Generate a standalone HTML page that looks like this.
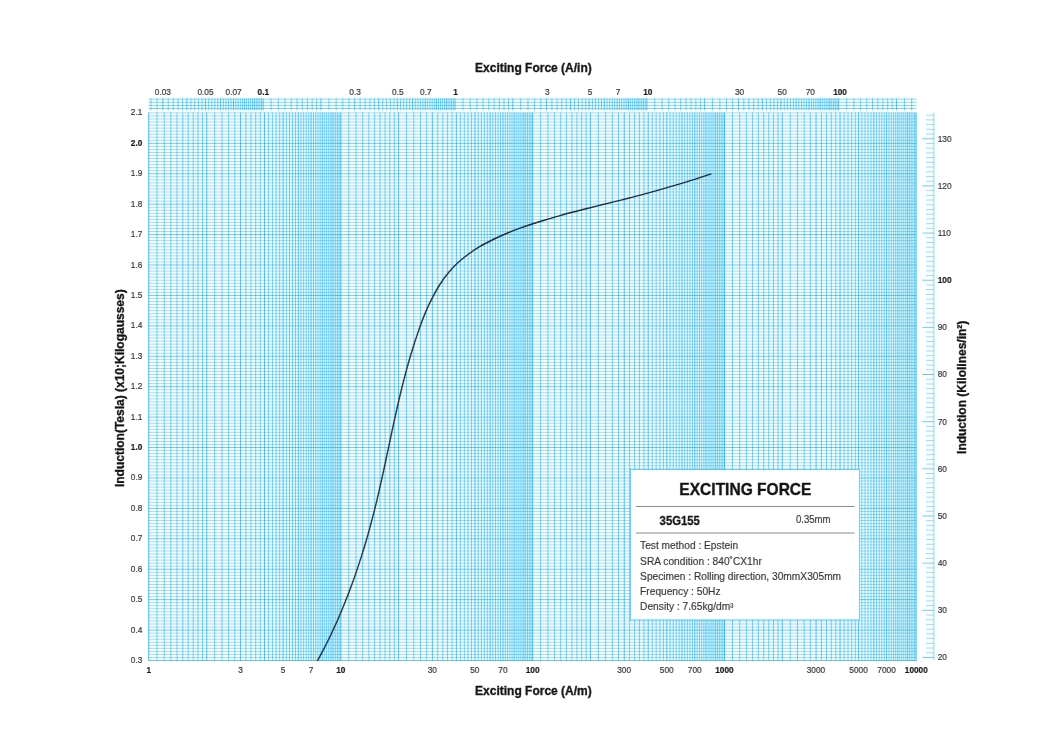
<!DOCTYPE html>
<html lang="en">
<head>
<meta charset="utf-8">
<title>Exciting Force - 35G155</title>
<style>
html,body{margin:0;padding:0;background:#fff;}
body{width:1060px;height:749px;overflow:hidden;}
svg{display:block;}
</style>
</head>
<body>
<svg width="1060" height="749" viewBox="0 0 1060 749" role="img" aria-label="Exciting Force chart for 35G155">
<defs><filter id="jp" filterUnits="userSpaceOnUse" x="-30" y="-30" width="1120" height="809" color-interpolation-filters="sRGB">
<feConvolveMatrix in="SourceGraphic" order="3" kernelMatrix="0.0000 0.0000 0.0000 0.0400 0.9200 0.0400 0.0000 0.0000 0.0000" divisor="1" edgeMode="duplicate" preserveAlpha="true" result="S"/>
<feColorMatrix in="S" type="matrix" values="0.299 0.587 0.114 0 0 0.299 0.587 0.114 0 0 0.299 0.587 0.114 0 0 0 0 0 1 0" result="Y"/>
<feGaussianBlur in="SourceGraphic" stdDeviation="0 1.2" result="B1"/>
<feGaussianBlur in="SourceGraphic" stdDeviation="1.1" result="B2"/>
<feComposite in="B1" in2="B2" operator="arithmetic" k1="0" k2="0.55" k3="0.45" k4="0" result="B"/>
<feColorMatrix in="B" type="matrix" values="0.3505 -0.2935 -0.057 0 0.5 -0.1495 0.2065 -0.057 0 0.5 -0.1495 -0.2935 0.443 0 0.5 0 0 0 1 0" result="C"/>
<feComposite in="Y" in2="C" operator="arithmetic" k1="0" k2="1" k3="2" k4="-1"/>
</filter></defs>
<g filter="url(#jp)">
<rect x="-30" y="-30" width="1120" height="809" fill="#fff"/>
<rect x="148.5" y="112.4" width="768" height="548.6" fill="#ffffff"/>
<path d="M148.5 657.46H916.5M148.5 654.42H916.5M148.5 651.37H916.5M148.5 648.33H916.5M148.5 645.29H916.5M148.5 642.25H916.5M148.5 639.2H916.5M148.5 636.16H916.5M148.5 633.12H916.5M148.5 627.04H916.5M148.5 623.99H916.5M148.5 620.95H916.5M148.5 617.91H916.5M148.5 614.87H916.5M148.5 611.82H916.5M148.5 608.78H916.5M148.5 605.74H916.5M148.5 602.7H916.5M148.5 596.61H916.5M148.5 593.57H916.5M148.5 590.53H916.5M148.5 587.49H916.5M148.5 584.44H916.5M148.5 581.4H916.5M148.5 578.36H916.5M148.5 575.32H916.5M148.5 572.28H916.5M148.5 566.19H916.5M148.5 563.15H916.5M148.5 560.11H916.5M148.5 557.06H916.5M148.5 554.02H916.5M148.5 550.98H916.5M148.5 547.94H916.5M148.5 544.9H916.5M148.5 541.85H916.5M148.5 535.77H916.5M148.5 532.73H916.5M148.5 529.68H916.5M148.5 526.64H916.5M148.5 523.6H916.5M148.5 520.56H916.5M148.5 517.52H916.5M148.5 514.47H916.5M148.5 511.43H916.5M148.5 505.35H916.5M148.5 502.3H916.5M148.5 499.26H916.5M148.5 496.22H916.5M148.5 493.18H916.5M148.5 490.14H916.5M148.5 487.09H916.5M148.5 484.05H916.5M148.5 481.01H916.5M148.5 474.92H916.5M148.5 471.88H916.5M148.5 468.84H916.5M148.5 465.8H916.5M148.5 462.76H916.5M148.5 459.71H916.5M148.5 456.67H916.5M148.5 453.63H916.5M148.5 450.59H916.5M148.5 444.5H916.5M148.5 441.46H916.5M148.5 438.42H916.5M148.5 435.38H916.5M148.5 432.33H916.5M148.5 429.29H916.5M148.5 426.25H916.5M148.5 423.21H916.5M148.5 420.16H916.5M148.5 414.08H916.5M148.5 411.04H916.5M148.5 408H916.5M148.5 404.95H916.5M148.5 401.91H916.5M148.5 398.87H916.5M148.5 395.83H916.5M148.5 392.78H916.5M148.5 389.74H916.5M148.5 383.66H916.5M148.5 380.62H916.5M148.5 377.57H916.5M148.5 374.53H916.5M148.5 371.49H916.5M148.5 368.45H916.5M148.5 365.4H916.5M148.5 362.36H916.5M148.5 359.32H916.5M148.5 353.24H916.5M148.5 350.19H916.5M148.5 347.15H916.5M148.5 344.11H916.5M148.5 341.07H916.5M148.5 338.02H916.5M148.5 334.98H916.5M148.5 331.94H916.5M148.5 328.9H916.5M148.5 322.81H916.5M148.5 319.77H916.5M148.5 316.73H916.5M148.5 313.69H916.5M148.5 310.64H916.5M148.5 307.6H916.5M148.5 304.56H916.5M148.5 301.52H916.5M148.5 298.48H916.5M148.5 292.39H916.5M148.5 289.35H916.5M148.5 286.31H916.5M148.5 283.26H916.5M148.5 280.22H916.5M148.5 277.18H916.5M148.5 274.14H916.5M148.5 271.1H916.5M148.5 268.05H916.5M148.5 261.97H916.5M148.5 258.93H916.5M148.5 255.88H916.5M148.5 252.84H916.5M148.5 249.8H916.5M148.5 246.76H916.5M148.5 243.72H916.5M148.5 240.67H916.5M148.5 237.63H916.5M148.5 231.55H916.5M148.5 228.5H916.5M148.5 225.46H916.5M148.5 222.42H916.5M148.5 219.38H916.5M148.5 216.34H916.5M148.5 213.29H916.5M148.5 210.25H916.5M148.5 207.21H916.5M148.5 201.12H916.5M148.5 198.08H916.5M148.5 195.04H916.5M148.5 192H916.5M148.5 188.96H916.5M148.5 185.91H916.5M148.5 182.87H916.5M148.5 179.83H916.5M148.5 176.79H916.5M148.5 170.7H916.5M148.5 167.66H916.5M148.5 164.62H916.5M148.5 161.58H916.5M148.5 158.53H916.5M148.5 155.49H916.5M148.5 152.45H916.5M148.5 149.41H916.5M148.5 146.36H916.5M148.5 140.28H916.5M148.5 137.24H916.5M148.5 134.2H916.5M148.5 131.15H916.5M148.5 128.11H916.5M148.5 125.07H916.5M148.5 122.03H916.5M148.5 118.98H916.5M148.5 115.94H916.5M148.5 112.9H916.5" stroke="#00aeef" stroke-width="0.4" fill="none"/>
<path d="M148.5 660.5H916.5M148.5 630.08H916.5M148.5 599.66H916.5M148.5 569.23H916.5M148.5 538.81H916.5M148.5 508.39H916.5M148.5 477.97H916.5M148.5 447.54H916.5M148.5 417.12H916.5M148.5 386.7H916.5M148.5 356.28H916.5M148.5 325.86H916.5M148.5 295.43H916.5M148.5 265.01H916.5M148.5 234.59H916.5M148.5 204.17H916.5M148.5 173.74H916.5M148.5 143.32H916.5" stroke="#00a8e8" stroke-width="0.6" fill="none"/>
<path d="M156.94 112.6V660.9M164.19 112.6V660.9M170.86 112.6V660.9M177.03 112.6V660.9M182.78 112.6V660.9M188.16 112.6V660.9M193.21 112.6V660.9M197.97 112.6V660.9M202.48 112.6V660.9M214.69 112.6V660.9M221.94 112.6V660.9M228.61 112.6V660.9M234.79 112.6V660.9M245.91 112.6V660.9M250.96 112.6V660.9M255.73 112.6V660.9M260.23 112.6V660.9M268.57 112.6V660.9M272.45 112.6V660.9M276.15 112.6V660.9M279.7 112.6V660.9M286.37 112.6V660.9M289.51 112.6V660.9M292.54 112.6V660.9M295.46 112.6V660.9M301.02 112.6V660.9M303.67 112.6V660.9M306.23 112.6V660.9M308.72 112.6V660.9M313.48 112.6V660.9M315.76 112.6V660.9M317.98 112.6V660.9M320.15 112.6V660.9M324.32 112.6V660.9M326.32 112.6V660.9M328.28 112.6V660.9M330.2 112.6V660.9M333.9 112.6V660.9M335.69 112.6V660.9M337.45 112.6V660.9M339.17 112.6V660.9M348.79 112.6V660.9M356.04 112.6V660.9M362.71 112.6V660.9M368.88 112.6V660.9M374.63 112.6V660.9M380.01 112.6V660.9M385.06 112.6V660.9M389.82 112.6V660.9M394.33 112.6V660.9M406.54 112.6V660.9M413.79 112.6V660.9M420.46 112.6V660.9M426.64 112.6V660.9M437.76 112.6V660.9M442.81 112.6V660.9M447.58 112.6V660.9M452.08 112.6V660.9M460.42 112.6V660.9M464.3 112.6V660.9M468 112.6V660.9M471.55 112.6V660.9M478.22 112.6V660.9M481.36 112.6V660.9M484.39 112.6V660.9M487.31 112.6V660.9M492.87 112.6V660.9M495.52 112.6V660.9M498.08 112.6V660.9M500.57 112.6V660.9M505.33 112.6V660.9M507.61 112.6V660.9M509.83 112.6V660.9M512 112.6V660.9M516.17 112.6V660.9M518.17 112.6V660.9M520.13 112.6V660.9M522.05 112.6V660.9M525.75 112.6V660.9M527.54 112.6V660.9M529.3 112.6V660.9M531.02 112.6V660.9M540.64 112.6V660.9M547.89 112.6V660.9M554.56 112.6V660.9M560.73 112.6V660.9M566.48 112.6V660.9M571.86 112.6V660.9M576.91 112.6V660.9M581.67 112.6V660.9M586.18 112.6V660.9M598.39 112.6V660.9M605.64 112.6V660.9M612.31 112.6V660.9M618.49 112.6V660.9M629.61 112.6V660.9M634.66 112.6V660.9M639.43 112.6V660.9M643.93 112.6V660.9M652.27 112.6V660.9M656.15 112.6V660.9M659.85 112.6V660.9M663.4 112.6V660.9M670.07 112.6V660.9M673.21 112.6V660.9M676.24 112.6V660.9M679.16 112.6V660.9M684.72 112.6V660.9M687.37 112.6V660.9M689.93 112.6V660.9M692.42 112.6V660.9M697.18 112.6V660.9M699.46 112.6V660.9M701.68 112.6V660.9M703.85 112.6V660.9M708.02 112.6V660.9M710.02 112.6V660.9M711.98 112.6V660.9M713.9 112.6V660.9M717.6 112.6V660.9M719.39 112.6V660.9M721.15 112.6V660.9M722.87 112.6V660.9M732.49 112.6V660.9M739.74 112.6V660.9M746.41 112.6V660.9M752.58 112.6V660.9M758.33 112.6V660.9M763.71 112.6V660.9M768.76 112.6V660.9M773.52 112.6V660.9M778.03 112.6V660.9M790.24 112.6V660.9M797.49 112.6V660.9M804.16 112.6V660.9M810.34 112.6V660.9M821.46 112.6V660.9M826.51 112.6V660.9M831.28 112.6V660.9M835.78 112.6V660.9M844.12 112.6V660.9M848 112.6V660.9M851.7 112.6V660.9M855.25 112.6V660.9M861.92 112.6V660.9M865.06 112.6V660.9M868.09 112.6V660.9M871.01 112.6V660.9M876.57 112.6V660.9M879.22 112.6V660.9M881.78 112.6V660.9M884.27 112.6V660.9M889.03 112.6V660.9M891.31 112.6V660.9M893.53 112.6V660.9M895.7 112.6V660.9M899.87 112.6V660.9M901.87 112.6V660.9M903.83 112.6V660.9M905.75 112.6V660.9M909.45 112.6V660.9M911.24 112.6V660.9M913 112.6V660.9M914.72 112.6V660.9" stroke="#00aeef" stroke-width="0.58" fill="none"/>
<path d="M206.75 112.6V660.9M240.54 112.6V660.9M264.51 112.6V660.9M283.1 112.6V660.9M298.29 112.6V660.9M311.13 112.6V660.9M322.26 112.6V660.9M332.07 112.6V660.9M398.6 112.6V660.9M432.39 112.6V660.9M456.36 112.6V660.9M474.95 112.6V660.9M490.14 112.6V660.9M502.98 112.6V660.9M514.11 112.6V660.9M523.92 112.6V660.9M590.45 112.6V660.9M624.24 112.6V660.9M648.21 112.6V660.9M666.8 112.6V660.9M681.99 112.6V660.9M694.83 112.6V660.9M705.96 112.6V660.9M715.77 112.6V660.9M782.3 112.6V660.9M816.09 112.6V660.9M840.06 112.6V660.9M858.65 112.6V660.9M873.84 112.6V660.9M886.68 112.6V660.9M897.81 112.6V660.9M907.62 112.6V660.9" stroke="#00a8e8" stroke-width="0.7" fill="none"/>
<path d="M148.75 112.6V660.9M340.85 112.6V660.9M532.7 112.6V660.9M724.55 112.6V660.9M916.1 112.6V660.9" stroke="#00a8e8" stroke-width="0.8" fill="none"/>
<rect x="148.5" y="98.5" width="768" height="11.1" fill="#ffffff"/>
<path d="M148.5 99.1H916.5M148.5 102.3H916.5M148.5 105.4H916.5M148.5 108.5H916.5" stroke="#00aeef" stroke-width="0.5" fill="none"/>
<path d="M150.95 98.5V110.3M157.12 98.5V110.3M168.25 98.5V110.3M173.3 98.5V110.3M178.06 98.5V110.3M182.56 98.5V110.3M190.9 98.5V110.3M194.78 98.5V110.3M198.48 98.5V110.3M202.03 98.5V110.3M208.7 98.5V110.3M211.84 98.5V110.3M214.87 98.5V110.3M217.8 98.5V110.3M223.35 98.5V110.3M226 98.5V110.3M228.56 98.5V110.3M231.05 98.5V110.3M235.81 98.5V110.3M238.09 98.5V110.3M240.32 98.5V110.3M242.48 98.5V110.3M246.65 98.5V110.3M248.66 98.5V110.3M250.62 98.5V110.3M252.53 98.5V110.3M256.24 98.5V110.3M258.03 98.5V110.3M259.78 98.5V110.3M261.5 98.5V110.3M271.12 98.5V110.3M278.37 98.5V110.3M285.04 98.5V110.3M291.22 98.5V110.3M296.97 98.5V110.3M302.34 98.5V110.3M307.39 98.5V110.3M312.16 98.5V110.3M316.66 98.5V110.3M328.88 98.5V110.3M336.13 98.5V110.3M342.8 98.5V110.3M348.97 98.5V110.3M360.1 98.5V110.3M365.15 98.5V110.3M369.91 98.5V110.3M374.41 98.5V110.3M382.75 98.5V110.3M386.63 98.5V110.3M390.33 98.5V110.3M393.88 98.5V110.3M400.55 98.5V110.3M403.69 98.5V110.3M406.72 98.5V110.3M409.65 98.5V110.3M415.2 98.5V110.3M417.85 98.5V110.3M420.41 98.5V110.3M422.9 98.5V110.3M427.66 98.5V110.3M429.94 98.5V110.3M432.17 98.5V110.3M434.33 98.5V110.3M438.5 98.5V110.3M440.51 98.5V110.3M442.47 98.5V110.3M444.38 98.5V110.3M448.09 98.5V110.3M449.88 98.5V110.3M451.63 98.5V110.3M453.35 98.5V110.3M462.97 98.5V110.3M470.22 98.5V110.3M476.89 98.5V110.3M483.07 98.5V110.3M488.82 98.5V110.3M494.19 98.5V110.3M499.24 98.5V110.3M504.01 98.5V110.3M508.51 98.5V110.3M520.73 98.5V110.3M527.98 98.5V110.3M534.65 98.5V110.3M540.82 98.5V110.3M551.95 98.5V110.3M557 98.5V110.3M561.76 98.5V110.3M566.26 98.5V110.3M574.6 98.5V110.3M578.48 98.5V110.3M582.18 98.5V110.3M585.73 98.5V110.3M592.4 98.5V110.3M595.54 98.5V110.3M598.57 98.5V110.3M601.5 98.5V110.3M607.05 98.5V110.3M609.7 98.5V110.3M612.26 98.5V110.3M614.75 98.5V110.3M619.51 98.5V110.3M621.79 98.5V110.3M624.02 98.5V110.3M626.18 98.5V110.3M630.35 98.5V110.3M632.36 98.5V110.3M634.32 98.5V110.3M636.23 98.5V110.3M639.94 98.5V110.3M641.73 98.5V110.3M643.48 98.5V110.3M645.2 98.5V110.3M654.82 98.5V110.3M662.07 98.5V110.3M668.74 98.5V110.3M674.92 98.5V110.3M680.67 98.5V110.3M686.04 98.5V110.3M691.09 98.5V110.3M695.86 98.5V110.3M700.36 98.5V110.3M712.58 98.5V110.3M719.83 98.5V110.3M726.5 98.5V110.3M732.67 98.5V110.3M743.8 98.5V110.3M748.85 98.5V110.3M753.61 98.5V110.3M758.11 98.5V110.3M766.45 98.5V110.3M770.33 98.5V110.3M774.03 98.5V110.3M777.58 98.5V110.3M784.25 98.5V110.3M787.39 98.5V110.3M790.42 98.5V110.3M793.35 98.5V110.3M798.9 98.5V110.3M801.55 98.5V110.3M804.11 98.5V110.3M806.6 98.5V110.3M811.36 98.5V110.3M813.64 98.5V110.3M815.87 98.5V110.3M818.03 98.5V110.3M822.2 98.5V110.3M824.21 98.5V110.3M826.17 98.5V110.3M828.08 98.5V110.3M831.79 98.5V110.3M833.58 98.5V110.3M835.33 98.5V110.3M837.05 98.5V110.3M846.67 98.5V110.3M853.92 98.5V110.3M860.59 98.5V110.3M866.77 98.5V110.3M872.52 98.5V110.3M877.89 98.5V110.3M882.94 98.5V110.3M887.71 98.5V110.3M892.21 98.5V110.3M904.43 98.5V110.3M911.68 98.5V110.3" stroke="#00aeef" stroke-width="0.58" fill="none"/>
<path d="M162.87 98.5V110.3M186.84 98.5V110.3M205.43 98.5V110.3M220.62 98.5V110.3M233.46 98.5V110.3M244.59 98.5V110.3M254.4 98.5V110.3M263.18 98.5V110.3M320.94 98.5V110.3M354.72 98.5V110.3M378.69 98.5V110.3M397.28 98.5V110.3M412.47 98.5V110.3M425.31 98.5V110.3M436.44 98.5V110.3M446.25 98.5V110.3M455.03 98.5V110.3M512.79 98.5V110.3M546.57 98.5V110.3M570.54 98.5V110.3M589.13 98.5V110.3M604.32 98.5V110.3M617.16 98.5V110.3M628.29 98.5V110.3M638.1 98.5V110.3M646.88 98.5V110.3M704.64 98.5V110.3M738.42 98.5V110.3M762.39 98.5V110.3M780.98 98.5V110.3M796.17 98.5V110.3M809.01 98.5V110.3M820.14 98.5V110.3M829.95 98.5V110.3M838.73 98.5V110.3M896.49 98.5V110.3" stroke="#00a8e8" stroke-width="0.7" fill="none"/>
<path d="M926 652.74H933.9M926 648.03H933.9M926 643.31H933.9M926 638.6H933.9M926 633.88H933.9M926 629.16H933.9M926 624.45H933.9M926 619.73H933.9M926 615.02H933.9M926 605.59H933.9M926 600.87H933.9M926 596.16H933.9M926 591.44H933.9M926 586.73H933.9M926 582.01H933.9M926 577.29H933.9M926 572.58H933.9M926 567.86H933.9M926 558.43H933.9M926 553.72H933.9M926 549H933.9M926 544.29H933.9M926 539.57H933.9M926 534.86H933.9M926 530.14H933.9M926 525.42H933.9M926 520.71H933.9M926 511.28H933.9M926 506.56H933.9M926 501.85H933.9M926 497.13H933.9M926 492.42H933.9M926 487.7H933.9M926 482.99H933.9M926 478.27H933.9M926 473.55H933.9M926 464.12H933.9M926 459.41H933.9M926 454.69H933.9M926 449.98H933.9M926 445.26H933.9M926 440.55H933.9M926 435.83H933.9M926 431.12H933.9M926 426.4H933.9M926 416.97H933.9M926 412.25H933.9M926 407.54H933.9M926 402.82H933.9M926 398.11H933.9M926 393.39H933.9M926 388.68H933.9M926 383.96H933.9M926 379.25H933.9M926 369.81H933.9M926 365.1H933.9M926 360.38H933.9M926 355.67H933.9M926 350.95H933.9M926 346.24H933.9M926 341.52H933.9M926 336.81H933.9M926 332.09H933.9M926 322.66H933.9M926 317.94H933.9M926 313.23H933.9M926 308.51H933.9M926 303.8H933.9M926 299.08H933.9M926 294.37H933.9M926 289.65H933.9M926 284.94H933.9M926 275.51H933.9M926 270.79H933.9M926 266.07H933.9M926 261.36H933.9M926 256.64H933.9M926 251.93H933.9M926 247.21H933.9M926 242.5H933.9M926 237.78H933.9M926 228.35H933.9M926 223.64H933.9M926 218.92H933.9M926 214.2H933.9M926 209.49H933.9M926 204.77H933.9M926 200.06H933.9M926 195.34H933.9M926 190.63H933.9M926 181.2H933.9M926 176.48H933.9M926 171.77H933.9M926 167.05H933.9M926 162.33H933.9M926 157.62H933.9M926 152.9H933.9M926 148.19H933.9M926 143.47H933.9M926 134.04H933.9M926 129.33H933.9M926 124.61H933.9M926 119.9H933.9M926 115.18H933.9" stroke="#00aeef" stroke-width="0.42" fill="none"/>
<path d="M922.3 657.46H933.9M922.3 610.3H933.9M922.3 563.15H933.9M922.3 515.99H933.9M922.3 468.84H933.9M922.3 421.68H933.9M922.3 374.53H933.9M922.3 327.38H933.9M922.3 280.22H933.9M922.3 233.07H933.9M922.3 185.91H933.9M922.3 138.76H933.9" stroke="#00aeef" stroke-width="0.6" fill="none"/>
<path d="M933.9 112.9V660.5" stroke="#00aeef" stroke-width="0.5" fill="none"/>
<path d="M317.4 661C318.52 658.9 321.93 652.62 324.1 648.4C326.27 644.18 328.35 639.97 330.4 635.7C332.45 631.43 334.47 627.13 336.4 622.8C338.33 618.47 340.18 614.07 342 609.7C343.82 605.33 345.58 601 347.3 596.6C349.02 592.2 350.68 587.75 352.3 583.3C353.92 578.85 355.48 574.38 357 569.9C358.52 565.42 359.97 560.92 361.4 556.4C362.83 551.88 364.25 547.35 365.6 542.8C366.95 538.25 368.25 533.67 369.5 529.1C370.75 524.53 371.92 519.98 373.1 515.4C374.28 510.82 375.48 506.22 376.6 501.6C377.72 496.98 378.75 492.32 379.8 487.7C380.85 483.08 381.88 478.52 382.9 473.9C383.92 469.28 384.92 464.63 385.9 460C386.88 455.37 387.82 450.73 388.8 446.1C389.78 441.47 390.8 436.83 391.8 432.2C392.8 427.57 393.78 422.93 394.8 418.3C395.82 413.67 396.83 409.03 397.9 404.4C398.97 399.77 400.07 395.12 401.2 390.5C402.33 385.88 403.5 381.28 404.7 376.7C405.9 372.12 407.1 367.57 408.4 363C409.7 358.43 411.08 353.87 412.5 349.3C413.92 344.73 415.37 340.13 416.9 335.6C418.43 331.07 420.02 326.55 421.7 322.1C423.38 317.65 425.08 313.23 427 308.9C428.92 304.57 431 300.25 433.2 296.1C435.4 291.95 437.67 287.88 440.2 284C442.73 280.12 445.47 276.33 448.4 272.8C451.33 269.27 454.43 265.93 457.8 262.8C461.17 259.67 464.83 256.77 468.6 254C472.37 251.23 476.32 248.62 480.4 246.2C484.48 243.78 488.77 241.62 493.1 239.5C497.43 237.38 501.93 235.38 506.4 233.5C510.87 231.62 515.37 229.87 519.9 228.2C524.43 226.53 529.05 224.98 533.6 223.5C538.15 222.02 542.65 220.67 547.2 219.3C551.75 217.93 556.33 216.57 560.9 215.3C565.47 214.03 570.05 212.88 574.6 211.7C579.15 210.52 583.65 209.35 588.2 208.2C592.75 207.05 597.33 205.93 601.9 204.8C606.47 203.67 611.03 202.53 615.6 201.4C620.17 200.27 624.73 199.17 629.3 198C633.87 196.83 638.43 195.63 643 194.4C647.57 193.17 652.13 191.88 656.7 190.6C661.27 189.32 665.83 188.03 670.4 186.7C674.97 185.37 679.55 184 684.1 182.6C688.65 181.2 693.15 179.75 697.7 178.3C702.25 176.85 709.12 174.63 711.4 173.9" stroke="#1f2c38" stroke-width="1.4" fill="none" stroke-linejoin="round"/>
<rect x="630.5" y="469.6" width="229" height="150.3" fill="#fff" stroke="#00aeef" stroke-opacity="0.75" stroke-width="0.7"/>
<path d="M636 506.5H854.5M636 533H854.5" stroke="#8c8c8c" stroke-width="1.05" fill="none"/>
<g font-family="'Liberation Sans', Arial, Helvetica, sans-serif" fill="#333">
<text transform="translate(162.87 94.9) scale(1 1.1)" font-size="8.3" text-anchor="middle" stroke="#333" stroke-width="0.18">0.03</text>
<text transform="translate(205.51 94.9) scale(1 1.1)" font-size="8.3" text-anchor="middle" stroke="#333" stroke-width="0.18">0.05</text>
<text transform="translate(233.6 94.9) scale(1 1.1)" font-size="8.3" text-anchor="middle" stroke="#333" stroke-width="0.18">0.07</text>
<text transform="translate(263.38 94.9) scale(1 1.1)" font-size="8.3" text-anchor="middle" font-weight="bold" fill="#111" stroke="#333" stroke-width="0.18">0.1</text>
<text transform="translate(355.09 94.9) scale(1 1.1)" font-size="8.3" text-anchor="middle" stroke="#333" stroke-width="0.18">0.3</text>
<text transform="translate(397.73 94.9) scale(1 1.1)" font-size="8.3" text-anchor="middle" stroke="#333" stroke-width="0.18">0.5</text>
<text transform="translate(425.82 94.9) scale(1 1.1)" font-size="8.3" text-anchor="middle" stroke="#333" stroke-width="0.18">0.7</text>
<text transform="translate(455.6 94.9) scale(1 1.1)" font-size="8.3" text-anchor="middle" font-weight="bold" fill="#111" stroke="#333" stroke-width="0.18">1</text>
<text transform="translate(547.31 94.9) scale(1 1.1)" font-size="8.3" text-anchor="middle" stroke="#333" stroke-width="0.18">3</text>
<text transform="translate(589.95 94.9) scale(1 1.1)" font-size="8.3" text-anchor="middle" stroke="#333" stroke-width="0.18">5</text>
<text transform="translate(618.04 94.9) scale(1 1.1)" font-size="8.3" text-anchor="middle" stroke="#333" stroke-width="0.18">7</text>
<text transform="translate(647.82 94.9) scale(1 1.1)" font-size="8.3" text-anchor="middle" font-weight="bold" fill="#111" stroke="#333" stroke-width="0.18">10</text>
<text transform="translate(739.53 94.9) scale(1 1.1)" font-size="8.3" text-anchor="middle" stroke="#333" stroke-width="0.18">30</text>
<text transform="translate(782.17 94.9) scale(1 1.1)" font-size="8.3" text-anchor="middle" stroke="#333" stroke-width="0.18">50</text>
<text transform="translate(810.26 94.9) scale(1 1.1)" font-size="8.3" text-anchor="middle" stroke="#333" stroke-width="0.18">70</text>
<text transform="translate(840.04 94.9) scale(1 1.1)" font-size="8.3" text-anchor="middle" font-weight="bold" fill="#111" stroke="#333" stroke-width="0.18">100</text>
<text transform="translate(148.9 672.5) scale(1 1.1)" font-size="8.3" text-anchor="middle" font-weight="bold" fill="#111" stroke="#333" stroke-width="0.18">1</text>
<text transform="translate(240.44 672.5) scale(1 1.1)" font-size="8.3" text-anchor="middle" stroke="#333" stroke-width="0.18">3</text>
<text transform="translate(283 672.5) scale(1 1.1)" font-size="8.3" text-anchor="middle" stroke="#333" stroke-width="0.18">5</text>
<text transform="translate(311.03 672.5) scale(1 1.1)" font-size="8.3" text-anchor="middle" stroke="#333" stroke-width="0.18">7</text>
<text transform="translate(340.75 672.5) scale(1 1.1)" font-size="8.3" text-anchor="middle" font-weight="bold" fill="#111" stroke="#333" stroke-width="0.18">10</text>
<text transform="translate(432.29 672.5) scale(1 1.1)" font-size="8.3" text-anchor="middle" stroke="#333" stroke-width="0.18">30</text>
<text transform="translate(474.85 672.5) scale(1 1.1)" font-size="8.3" text-anchor="middle" stroke="#333" stroke-width="0.18">50</text>
<text transform="translate(502.88 672.5) scale(1 1.1)" font-size="8.3" text-anchor="middle" stroke="#333" stroke-width="0.18">70</text>
<text transform="translate(532.6 672.5) scale(1 1.1)" font-size="8.3" text-anchor="middle" font-weight="bold" fill="#111" stroke="#333" stroke-width="0.18">100</text>
<text transform="translate(624.14 672.5) scale(1 1.1)" font-size="8.3" text-anchor="middle" stroke="#333" stroke-width="0.18">300</text>
<text transform="translate(666.7 672.5) scale(1 1.1)" font-size="8.3" text-anchor="middle" stroke="#333" stroke-width="0.18">500</text>
<text transform="translate(694.73 672.5) scale(1 1.1)" font-size="8.3" text-anchor="middle" stroke="#333" stroke-width="0.18">700</text>
<text transform="translate(724.45 672.5) scale(1 1.1)" font-size="8.3" text-anchor="middle" font-weight="bold" fill="#111" stroke="#333" stroke-width="0.18">1000</text>
<text transform="translate(815.99 672.5) scale(1 1.1)" font-size="8.3" text-anchor="middle" stroke="#333" stroke-width="0.18">3000</text>
<text transform="translate(858.55 672.5) scale(1 1.1)" font-size="8.3" text-anchor="middle" stroke="#333" stroke-width="0.18">5000</text>
<text transform="translate(886.58 672.5) scale(1 1.1)" font-size="8.3" text-anchor="middle" stroke="#333" stroke-width="0.18">7000</text>
<text transform="translate(916.3 672.5) scale(1 1.1)" font-size="8.3" text-anchor="middle" font-weight="bold" fill="#111" stroke="#333" stroke-width="0.18">10000</text>
<text transform="translate(142.4 663) scale(1 1.1)" font-size="8.3" text-anchor="end" stroke="#333" stroke-width="0.18">0.3</text>
<text transform="translate(142.4 632.58) scale(1 1.1)" font-size="8.3" text-anchor="end" stroke="#333" stroke-width="0.18">0.4</text>
<text transform="translate(142.4 602.16) scale(1 1.1)" font-size="8.3" text-anchor="end" stroke="#333" stroke-width="0.18">0.5</text>
<text transform="translate(142.4 571.73) scale(1 1.1)" font-size="8.3" text-anchor="end" stroke="#333" stroke-width="0.18">0.6</text>
<text transform="translate(142.4 541.31) scale(1 1.1)" font-size="8.3" text-anchor="end" stroke="#333" stroke-width="0.18">0.7</text>
<text transform="translate(142.4 510.89) scale(1 1.1)" font-size="8.3" text-anchor="end" stroke="#333" stroke-width="0.18">0.8</text>
<text transform="translate(142.4 480.47) scale(1 1.1)" font-size="8.3" text-anchor="end" stroke="#333" stroke-width="0.18">0.9</text>
<text transform="translate(142.4 450.04) scale(1 1.1)" font-size="8.3" text-anchor="end" font-weight="bold" fill="#111" stroke="#333" stroke-width="0.18">1.0</text>
<text transform="translate(142.4 419.62) scale(1 1.1)" font-size="8.3" text-anchor="end" stroke="#333" stroke-width="0.18">1.1</text>
<text transform="translate(142.4 389.2) scale(1 1.1)" font-size="8.3" text-anchor="end" stroke="#333" stroke-width="0.18">1.2</text>
<text transform="translate(142.4 358.78) scale(1 1.1)" font-size="8.3" text-anchor="end" stroke="#333" stroke-width="0.18">1.3</text>
<text transform="translate(142.4 328.36) scale(1 1.1)" font-size="8.3" text-anchor="end" stroke="#333" stroke-width="0.18">1.4</text>
<text transform="translate(142.4 297.93) scale(1 1.1)" font-size="8.3" text-anchor="end" stroke="#333" stroke-width="0.18">1.5</text>
<text transform="translate(142.4 267.51) scale(1 1.1)" font-size="8.3" text-anchor="end" stroke="#333" stroke-width="0.18">1.6</text>
<text transform="translate(142.4 237.09) scale(1 1.1)" font-size="8.3" text-anchor="end" stroke="#333" stroke-width="0.18">1.7</text>
<text transform="translate(142.4 206.67) scale(1 1.1)" font-size="8.3" text-anchor="end" stroke="#333" stroke-width="0.18">1.8</text>
<text transform="translate(142.4 176.24) scale(1 1.1)" font-size="8.3" text-anchor="end" stroke="#333" stroke-width="0.18">1.9</text>
<text transform="translate(142.4 145.82) scale(1 1.1)" font-size="8.3" text-anchor="end" font-weight="bold" fill="#111" stroke="#333" stroke-width="0.18">2.0</text>
<text transform="translate(142.4 115.4) scale(1 1.1)" font-size="8.3" text-anchor="end" stroke="#333" stroke-width="0.18">2.1</text>
<text transform="translate(937.7 660.36) scale(1 1.1)" font-size="8.3" stroke="#333" stroke-width="0.18">20</text>
<text transform="translate(937.7 613.2) scale(1 1.1)" font-size="8.3" stroke="#333" stroke-width="0.18">30</text>
<text transform="translate(937.7 566.05) scale(1 1.1)" font-size="8.3" stroke="#333" stroke-width="0.18">40</text>
<text transform="translate(937.7 518.89) scale(1 1.1)" font-size="8.3" stroke="#333" stroke-width="0.18">50</text>
<text transform="translate(937.7 471.74) scale(1 1.1)" font-size="8.3" stroke="#333" stroke-width="0.18">60</text>
<text transform="translate(937.7 424.58) scale(1 1.1)" font-size="8.3" stroke="#333" stroke-width="0.18">70</text>
<text transform="translate(937.7 377.43) scale(1 1.1)" font-size="8.3" stroke="#333" stroke-width="0.18">80</text>
<text transform="translate(937.7 330.28) scale(1 1.1)" font-size="8.3" stroke="#333" stroke-width="0.18">90</text>
<text transform="translate(937.7 283.12) scale(1 1.1)" font-size="8.3" font-weight="bold" fill="#111" stroke="#333" stroke-width="0.18">100</text>
<text transform="translate(937.7 235.97) scale(1 1.1)" font-size="8.3" stroke="#333" stroke-width="0.18">110</text>
<text transform="translate(937.7 188.81) scale(1 1.1)" font-size="8.3" stroke="#333" stroke-width="0.18">120</text>
<text transform="translate(937.7 141.66) scale(1 1.1)" font-size="8.3" stroke="#333" stroke-width="0.18">130</text>
<text x="533.4" y="72.1" font-size="12" text-anchor="middle" font-weight="bold" fill="#111" stroke="#111" stroke-width="0.3">Exciting Force (A/in)</text>
<text x="533.4" y="694.8" font-size="12" text-anchor="middle" font-weight="bold" fill="#111" stroke="#111" stroke-width="0.3">Exciting Force (A/m)</text>
<text transform="translate(124 388.2) rotate(-90)" font-size="12" font-weight="bold" text-anchor="middle" fill="#111" stroke="#111" stroke-width="0.3">Induction(Tesla) (x10;Kilogausses)</text>
<text transform="translate(966.2 387.3) rotate(-90)" font-size="12" font-weight="bold" text-anchor="middle" fill="#111" stroke="#111" stroke-width="0.3">Induction (Kilolines/in²)</text>
<text transform="translate(745.4 495) scale(1 1.09)" font-size="15.55" text-anchor="middle" font-weight="bold" fill="#111" stroke="#111" stroke-width="0.3">EXCITING FORCE</text>
<text transform="translate(659.6 524.6) scale(1 1.08)" font-size="11.3" font-weight="bold" fill="#111" stroke="#111" stroke-width="0.25">35G155</text>
<text transform="translate(795.9 523.3) scale(1 1.08)" font-size="9.6" stroke="#333" stroke-width="0.15">0.35mm</text>
<text x="640.1" y="549.4" font-size="10.2" stroke="#333" stroke-width="0.15">Test method : Epstein</text>
<text x="640.1" y="564.5" font-size="10.2" stroke="#333" stroke-width="0.15">SRA condition : 840˚CX1hr</text>
<text x="640.1" y="579.6" font-size="10.2" stroke="#333" stroke-width="0.15">Specimen : Rolling direction, 30mmX305mm</text>
<text x="640.1" y="594.7" font-size="10.2" stroke="#333" stroke-width="0.15">Frequency : 50Hz</text>
<text x="640.1" y="609.8" font-size="10.2" stroke="#333" stroke-width="0.15">Density : 7.65kg/dm³</text>
</g>
</g>
</svg>
</body>
</html>
